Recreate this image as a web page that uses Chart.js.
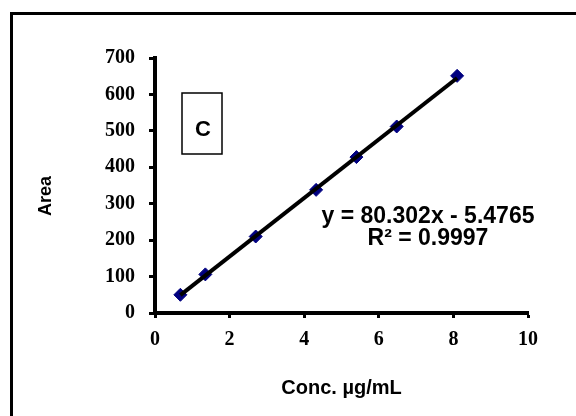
<!DOCTYPE html>
<html>
<head>
<meta charset="utf-8">
<script src="https://cdn.jsdelivr.net/npm/chart.js@4/dist/chart.umd.min.js"></script>
<style>
  html, body { margin: 0; padding: 0; background: #fff; }
  .chart-wrapper { width: 576px; height: 416px; }
</style>
</head>
<body>
<div class="chart-wrapper"><canvas id="chart" width="576" height="416"></canvas></div>
<script>
const concValues = [0.68, 1.35, 2.7, 4.32, 5.4, 6.48, 8.1];
const areaValues = [50, 106, 210, 338, 428, 512, 651];
// trendline ends
const trendX = [0.68, 8.1];
const trendY = [49, 645];
const yTicks = [0, 100, 200, 300, 400, 500, 600, 700];
const xTicks = [0, 2, 4, 6, 8, 10];
const equationLines = ["y = 80.302x - 5.4765", "R² = 0.9997"];
const panelLabel = "C";
const yTitle = "Area";

const ctx = document.getElementById("chart");

const extras = {
  id: "extras",
  beforeDraw(chart) {
    const c = chart.ctx;
    c.save();
    c.fillStyle = "#fff";
    c.fillRect(0, 0, chart.width, chart.height);
    c.strokeStyle = "#000";
    c.lineWidth = 3;
    c.beginPath();
    c.moveTo(11.5, 420);
    c.lineTo(11.5, 13.5);
    c.lineTo(580, 13.5);
    c.stroke();
    c.restore();
  },
  afterDraw(chart) {
    const c = chart.ctx;
    c.save();
    c.fillStyle = "#000";
    c.textAlign = "center";
    c.textBaseline = "middle";
    // y axis title
    c.save();
    c.translate(46, 196);
    c.rotate(-Math.PI / 2);
    c.font = "bold 18px 'Liberation Sans', Arial, sans-serif";
    c.fillText(yTitle, 0, 0);
    c.restore();
    // panel label box
    c.strokeStyle = "#000";
    c.lineWidth = 1.5;
    c.strokeRect(182, 93, 40, 61);
    c.font = "bold 22px 'Liberation Sans', Arial, sans-serif";
    c.fillText(panelLabel, 203, 130);
    // trendline label
    c.font = "bold 23px 'Liberation Sans', Arial, sans-serif";
    c.fillText(equationLines[0], 428, 217);
    c.fillText(equationLines[1], 428, 239);
    c.restore();
  }
};

new Chart(ctx, {
  type: "scatter",
  data: {
    datasets: [
      {
        label: "Linear",
        data: trendX.map((x, i) => ({ x: x, y: trendY[i] })),
        showLine: true,
        borderColor: "#000",
        borderWidth: 4,
        pointRadius: 0,
      },
      {
        label: "Area",
        data: concValues.map((x, i) => ({ x: x, y: areaValues[i] })),
        pointStyle: "rectRot",
        pointRadius: 6.5,
        backgroundColor: "#000080",
        borderColor: "#000080",
        borderWidth: 1,
      },
    ],
  },
  options: {
    responsive: false,
    animation: false,
    layout: { padding: { left: 0, top: 58, right: 48, bottom: 0 } },
    plugins: {
      legend: { display: false },
      tooltip: { enabled: false },
    },
    scales: {
      x: {
        type: "linear",
        min: 0,
        max: 10,
        afterBuildTicks: (axis) => { axis.ticks = xTicks.map((v) => ({ value: v })); },
        afterFit: (axis) => { axis.height = 103; },
        border: { display: true, color: "#000", width: 4 },
        grid: { drawOnChartArea: false, drawTicks: true, tickLength: 5, tickWidth: 3, tickColor: "#000" },
        ticks: {
          color: "#000",
          padding: 10,
          font: { family: "'Liberation Serif', 'Times New Roman', serif", size: 20, weight: "bold" },
        },
        title: {
          display: true,
          text: "Conc. µg/mL",
          color: "#000",
          font: { family: "'Liberation Sans', Arial, sans-serif", size: 20, weight: "bold" },
          padding: { top: 0, bottom: 16 },
        },
      },
      y: {
        type: "linear",
        min: 0,
        max: 700,
        afterBuildTicks: (axis) => { axis.ticks = yTicks.map((v) => ({ value: v })); },
        afterFit: (axis) => { axis.width = 155; },
        border: { display: true, color: "#000", width: 4 },
        grid: { drawOnChartArea: false, drawTicks: true, tickLength: 6, tickWidth: 3, tickColor: "#000" },
        ticks: {
          color: "#000",
          padding: 14,
          font: { family: "'Liberation Serif', 'Times New Roman', serif", size: 20, weight: "bold" },
        },
      },
    },
  },
  plugins: [extras],
});
</script>
</body>
</html>
